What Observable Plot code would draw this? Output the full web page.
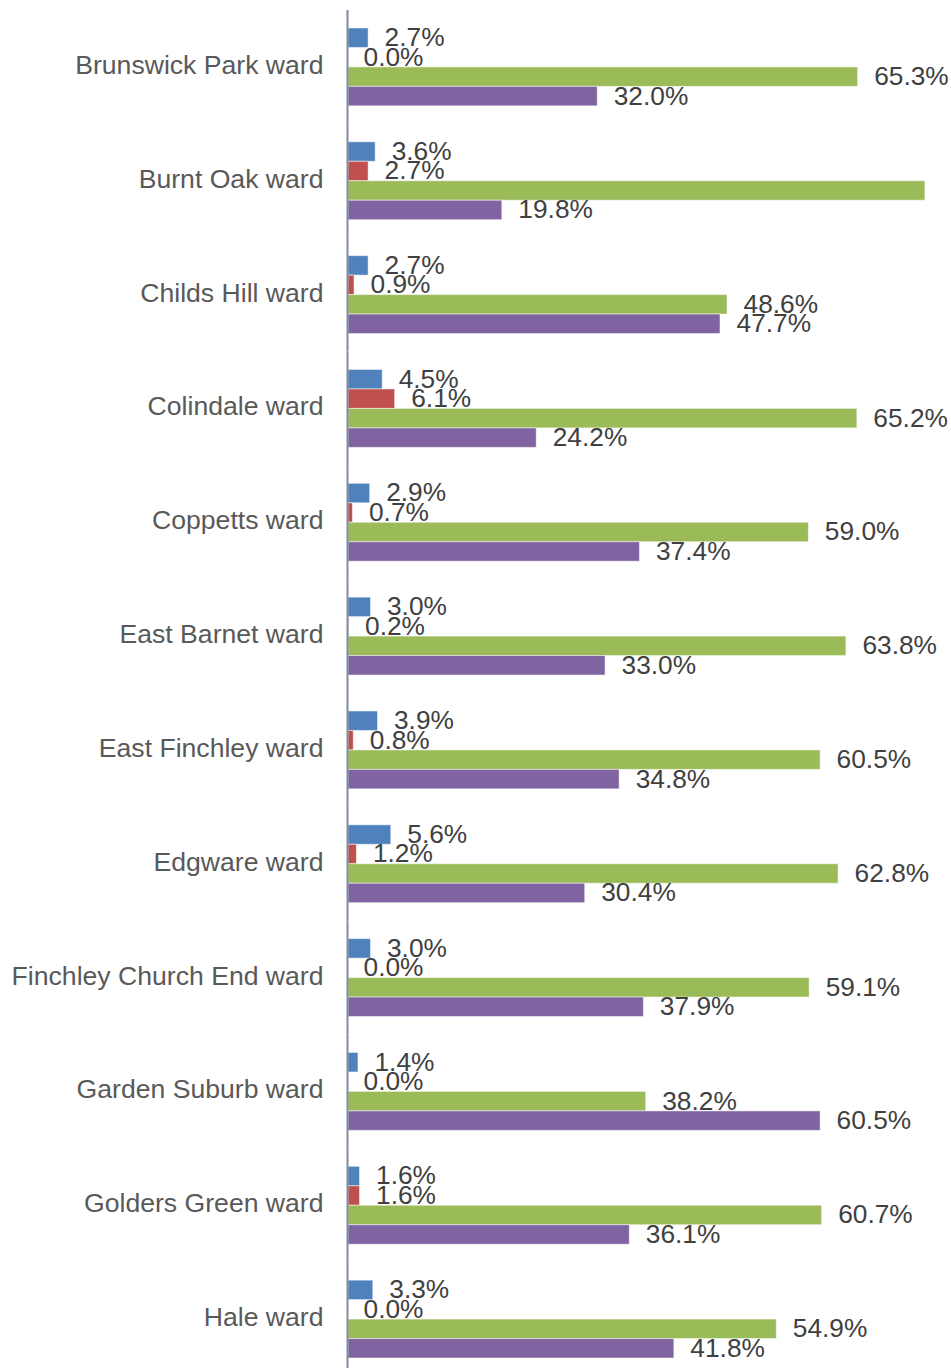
<!DOCTYPE html>
<html>
<head>
<meta charset="utf-8">
<script src="https://cdn.jsdelivr.net/npm/d3@7"></script>
<script src="https://cdn.jsdelivr.net/npm/@observablehq/plot@0.6"></script>
<style>
  html, body { margin: 0; padding: 0; background: #fff; overflow: hidden; }
</style>
</head>
<body>
<div id="chart"></div>
<script>
const wards = [
  "Brunswick Park ward", "Burnt Oak ward", "Childs Hill ward", "Colindale ward",
  "Coppetts ward", "East Barnet ward", "East Finchley ward", "Edgware ward",
  "Finchley Church End ward", "Garden Suburb ward", "Golders Green ward", "Hale ward"
];
const seriesNames = ["Series 1", "Series 2", "Series 3", "Series 4"];
const series1 = [2.7, 3.6, 2.7, 4.5, 2.9, 3.0, 3.9, 5.6, 3.0, 1.4, 1.6, 3.3];
const series2 = [0.0, 2.7, 0.9, 6.1, 0.7, 0.2, 0.8, 1.2, 0.0, 0.0, 1.6, 0.0];
const series3 = [65.3, 73.9, 48.6, 65.2, 59.0, 63.8, 60.5, 62.8, 59.1, 38.2, 60.7, 54.9];
const series4 = [32.0, 19.8, 47.7, 24.2, 37.4, 33.0, 34.8, 30.4, 37.9, 60.5, 36.1, 41.8];
const colors = ["#4F81BD", "#C0504D", "#9BBB59", "#8064A2"];

const allSeries = [series1, series2, series3, series4];
const data = [];
wards.forEach((w, i) => {
  allSeries.forEach((s, j) => {
    data.push({ward: w, series: seriesNames[j], value: s[i]});
  });
});

const font = "'Liberation Sans', Arial, sans-serif";
const xMax = 77.24;

const chart = Plot.plot({
  width: 951,
  height: 1376,
  marginTop: 10,
  marginBottom: 0,
  marginLeft: 347,
  marginRight: 0,
  style: {fontFamily: font, background: "#fff", overflow: "visible"},
  x: {domain: [0, xMax], axis: null},
  fy: {domain: wards, padding: 0, round: false, label: null},
  y: {domain: seriesNames, paddingInner: 0, paddingOuter: 0.923, round: false, axis: null},
  color: {domain: seriesNames, range: colors},
  marks: [
    Plot.barX(data, {
      fy: "ward", y: "series", x: "value", fill: "series",
      stroke: "#ffffff", strokeOpacity: 0.5, strokeWidth: 1, insetLeft: 1
    }),
    Plot.text(data.filter(d => d.value < 70), {
      fy: "ward", y: "series", x: "value",
      text: d => d.value.toFixed(1) + "%",
      textAnchor: "start", dx: 16, dy: -0.5,
      fontSize: 26.3, fill: "#404040"
    }),
    Plot.ruleX([0], {stroke: "#7F8C9E", strokeWidth: 2}),
    Plot.axisFy({
      anchor: "left", tickSize: 0, tickPadding: 24, label: null, dy: -2,
      fontSize: 26.6, fill: "#595959", textAnchor: "end"
    })
  ]
});
document.getElementById("chart").appendChild(chart);
</script>
</body>
</html>
